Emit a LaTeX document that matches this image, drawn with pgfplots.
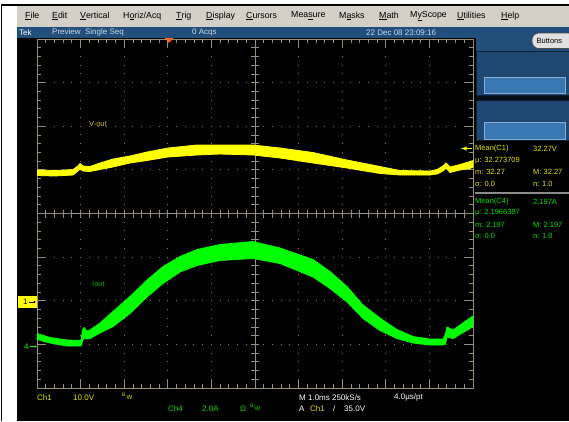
\documentclass[border=0pt]{standalone}
\usepackage{fontspec}
\setmainfont{Liberation Sans}
\usepackage{pgfplots}
\pgfplotsset{compat=1.18}

\definecolor{menugray}{RGB}{212,208,200}
\definecolor{tekblue}{RGB}{33,78,122}
\definecolor{boxblue}{RGB}{30,72,114}
\definecolor{innerblue}{RGB}{58,120,180}
\definecolor{gratcol}{RGB}{150,143,122}
\definecolor{dotcol}{RGB}{125,125,112}
\definecolor{tyellow}{RGB}{255,255,0}
\definecolor{tgreen}{RGB}{0,255,0}
\definecolor{lyellow}{RGB}{228,228,0}
\definecolor{lgreen}{RGB}{0,225,0}
\definecolor{titletext}{RGB}{205,215,228}
\definecolor{trigorange}{RGB}{255,100,30}

\newcommand\menufont{\fontsize{8.8}{10}\selectfont}
\newcommand\scopefont{\fontsize{8}{9.5}\selectfont}
\newcommand\measfont{\fontsize{7.5}{9}\selectfont}

\begin{document}
\begin{tikzpicture}
\useasboundingbox (0pt,-421pt) rectangle (569pt,0pt);
\begin{scope}[x=1pt,y=-1pt]
% window frame
\fill[white] (0,0) rectangle (569,421);
\fill[black] (1,4) rectangle (569,5.5);
\fill[black] (1,4) rectangle (2.3,421);
% menu bar
\fill[menugray] (17,5.5) rectangle (569,27);
\begin{scope}[every node/.style={anchor=west,inner sep=0,font=\menufont}]
\node at (25,16) {\underline{F}ile};
\node at (52,16) {\underline{E}dit};
\node at (80,16) {\underline{V}ertical};
\node at (123,16) {H\underline{o}riz/Acq};
\node at (176,16) {\underline{T}rig};
\node at (206,16) {\underline{D}isplay};
\node at (246,16) {\underline{C}ursors};
\node at (291,16) {Mea\underline{s}ure};
\node at (339,16) {M\underline{a}sks};
\node at (379,16) {\underline{M}ath};
\node at (410,16) {M\underline{y}Scope};
\node at (457,16) {\underline{U}tilities};
\node at (501,16) {\underline{H}elp};
\end{scope}
% title bar and screen
\fill[tekblue] (17,27) rectangle (569,38);
\fill[black] (17,38) rectangle (569,421);
\begin{scope}[every node/.style={anchor=west,inner sep=0,font=\scopefont,text=titletext}]
\node[text=white] at (19,32.5) {Tek};
\node at (52,32.5) {Preview\ \ Single Seq};
\node at (192,32.5) {0 Acqs};
\node at (366,32.5) {22 Dec 08 23:09:16};
\end{scope}
% right panel
\fill[tekblue] (475.5,38) rectangle (569,141);
\fill[black!80!tekblue] (475.5,96) rectangle (569,100);
\filldraw[fill=boxblue,draw=black!60!tekblue,line width=0.8] (476.5,51.5) rectangle (570,95.5);
\filldraw[fill=innerblue,draw=innerblue!60!white,line width=0.8] (484,77) rectangle (565,93);
\filldraw[fill=boxblue,draw=black!60!tekblue,line width=0.8] (476.5,100.5) rectangle (570,140.5);
\filldraw[fill=innerblue,draw=innerblue!60!white,line width=0.8] (484,122) rectangle (565,139);
\filldraw[fill=black!12,draw=black!70,line width=0.6,rounded corners=7] (532,33) rectangle (575,48.5);
\node[anchor=west,inner sep=0,font=\measfont] at (536.5,40.8) {Buttons};
% graticule dots
\foreach \i in {1,2,3,4,6,7,8,9} {
  \foreach \k in {1,...,39} {
    \fill[dotcol] ({37+43.6*\i-0.5},{39+8.725*\k-0.5}) rectangle ++(1,1);
  }
}
\foreach \j in {1,2,3,5,6,7} {
  \foreach \k in {1,...,49} {
    \fill[dotcol] ({37+8.72*\k-0.5},{39+43.625*\j-0.5}) rectangle ++(1,1);
  }
}
% graticule frame, centre lines and ticks
\begin{scope}[draw=gratcol,line width=0.8]
\draw (37,39) rectangle (473,388);
\draw (255,39) -- (255,388);
\draw (37,213.5) -- (473,213.5);
\foreach \k in {1,...,49} {
  \pgfmathsetmacro\tl{mod(\k,5)==0 ? 8 : 4}
  \draw ({37+8.72*\k},39) -- ++(0,\tl);
  \draw ({37+8.72*\k},388) -- ++(0,-\tl);
  \draw ({37+8.72*\k},209.5) -- ++(0,8);
}
\foreach \k in {1,...,39} {
  \pgfmathsetmacro\tl{mod(\k,5)==0 ? 8 : 4}
  \draw (37,{39+8.725*\k}) -- ++(\tl,0);
  \draw (473,{39+8.725*\k}) -- ++(-\tl,0);
  \draw (251,{39+8.725*\k}) -- ++(8,0);
}
\end{scope}
\fill[trigorange] (164.5,38) -- (173.5,38) -- (169,43) -- cycle;
\end{scope}
% traces: outline of each noisy band (upper edge left to right, lower edge back)
\begin{axis}[at={(0pt,-421pt)},anchor=south west,scale only axis,
  width=569pt,height=421pt,xmin=0,xmax=569,ymin=0,ymax=421,
  y dir=reverse,axis lines=none,ticks=none,clip=false]
\addplot[fill=tyellow,draw=tyellow,line width=0.8] coordinates {
 (37,170)(55,170.5)(73,169.5)(78,166)(80,163.5)(83,166)(90,166.5)(100,163)
 (113,159)(130,156)(147,152)(168,148)(197,145)(220,145)(253,145)(280,148)
 (313,152.5)(347,160)(380,166.5)(400,170.5)(430,171)(437,169.5)(443,166)
 (446,163)(450,167)(460,164.5)(470,161.5)(473,160.5)
 (473,167)(470,168.5)(460,170)(450,172.5)(446,168)(443,171)(437,174)(430,175)
 (400,175)(380,173.5)(347,168)(313,163)(280,158)(253,155)(220,154)(197,155)
 (168,157)(147,160.5)(130,163)(113,167)(100,169.5)(90,171.5)(83,171)(80,169)
 (78,171)(73,175)(55,176)(37,175.5)
};
\addplot[fill=tgreen,draw=tgreen,line width=0.8] coordinates {
 (37,333.5)(50,337.5)(67,340)(81,340.5)(82.5,330)(84,327.5)(87,331)(90,330)
 (100,323)(113,311.5)(130,296.5)(147,280)(163,266.5)(180,256.5)(197,249.5)
 (220,244.5)(253,241.5)(280,248)(313,259.5)(330,271.5)(347,286.5)(363,305)
 (380,318)(397,329.5)(413,336.5)(430,339)(443,339)(445.5,334)(447,327)
 (453,330)(470,318)(473,316)
 (473,326)(470,328.5)(453,338.5)(447,337)(445.5,344)(443,345)(430,345)
 (413,343)(397,338.5)(380,330.5)(363,318.5)(347,302)(330,288.5)(313,277)
 (280,263.5)(253,258.5)(220,260.5)(197,265.5)(180,272)(163,283.5)(147,297)
 (130,313.5)(113,326.5)(100,333)(90,338.5)(87,339)(84,338)(82.5,341)
 (81,346)(67,346)(50,343)(37,339.5)
};
\end{axis}
\begin{scope}[x=1pt,y=-1pt]
% trace labels and markers
\node[anchor=west,inner sep=0,font=\measfont,text=yellow!75!black] at (89,124) {V-out};
\node[anchor=west,inner sep=0,font=\measfont,text=green!70!black] at (92,284) {Iout};
\fill[tyellow] (18,296) rectangle (37,308);
\node[anchor=west,inner sep=0,font=\scopefont] at (23,302) {1};
\draw[black,line width=0.7] (29,302) -- (34,302);
\fill[black] (34.5,302) circle (1.1);
\node[anchor=west,inner sep=0,font=\scopefont,text=tgreen] at (24,347) {4};
\draw[tgreen,line width=0.7] (30,346.5) -- (35,346.5);
\fill[tgreen] (35.5,346.5) circle (1.1);
\draw[tyellow,line width=0.9,-latex] (472,148.5) -- (461,148.5);
% measurement readouts
\begin{scope}[every node/.style={anchor=west,inner sep=0,font=\measfont}]
\node[text=lyellow] at (475,148.5) {Mean(C1)};
\node[text=lyellow] at (533,148.5) {32.27V};
\node[text=lyellow] at (475,160.5) {μ: 32.273709};
\node[text=lyellow] at (475,172) {m: 32.27};
\node[text=lyellow] at (533,172) {M: 32.27};
\node[text=lyellow] at (475,183.5) {σ: 0.0};
\node[text=lyellow] at (533,183.5) {n: 1.0};
\node[text=lgreen] at (475,202) {Mean(C4)};
\node[text=lgreen] at (533,202) {2.197A};
\node[text=lgreen] at (475,213) {μ: 2.1966387};
\node[text=lgreen] at (475,224.5) {m: 2.197};
\node[text=lgreen] at (533,224.5) {M: 2.197};
\node[text=lgreen] at (475,236) {σ: 0.0};
\node[text=lgreen] at (533,236) {n: 1.0};
\end{scope}
\draw[black!45,line width=1.2] (475,193) -- (569,193);
% bottom readouts
\begin{scope}[every node/.style={anchor=west,inner sep=0,font=\scopefont}]
\node[text=lyellow] at (37,397.5) {Ch1};
\node[text=lyellow] at (73,397.5) {10.0V};
\node[text=lyellow,font=\fontsize{5}{6}\selectfont] at (122,394.5) {B};
\node[text=lyellow,font=\fontsize{6}{7}\selectfont] at (126.5,397.5) {W};
\node[text=lgreen] at (168,408.5) {Ch4};
\node[text=lgreen] at (202,408.5) {2.0A};
\node[text=lgreen] at (240,408.5) {Ω};
\node[text=lgreen,font=\fontsize{5}{6}\selectfont] at (250,405.5) {B};
\node[text=lgreen,font=\fontsize{6}{7}\selectfont] at (254.5,408.5) {W};
\node[text=white] at (299,397.5) {M 1.0ms 250kS/s};
\node[text=white] at (394,397.5) {4.0µs/pt};
\node[text=white] at (299,408.5) {A};
\node[text=lyellow] at (310,408.5) {Ch1};
\node[text=white] at (333,408.5) {/};
\node[text=white] at (344,408.5) {35.0V};
\end{scope}
\end{scope}
\end{tikzpicture}
\end{document}
